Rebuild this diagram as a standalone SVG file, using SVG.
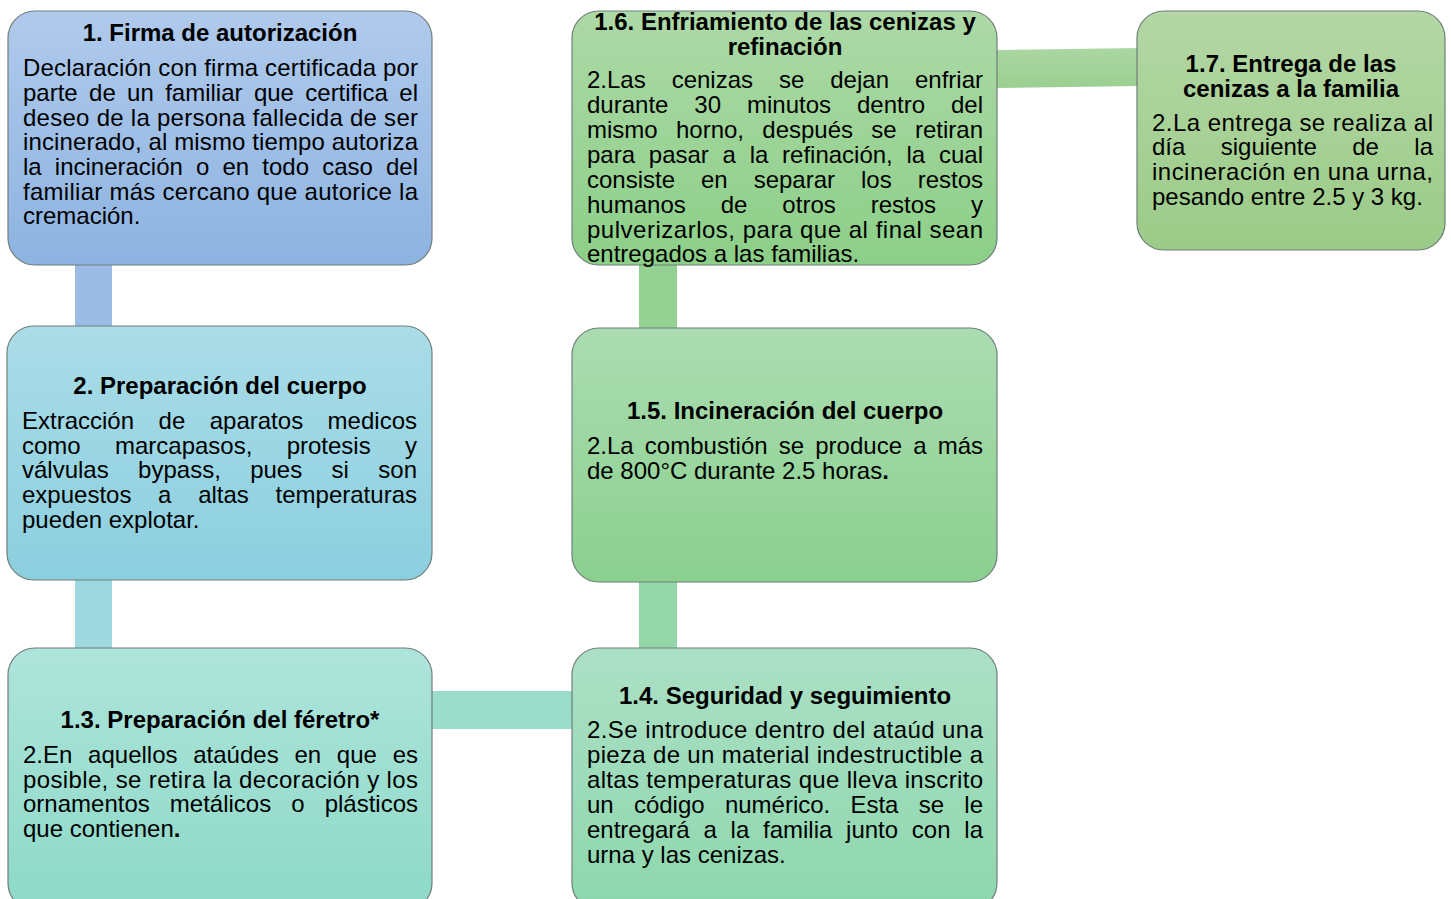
<svg xmlns="http://www.w3.org/2000/svg" width="1451" height="899" viewBox="0 0 1451 899">
<style>
.t{font-family:"Liberation Sans",Arial,sans-serif;font-size:24px;font-weight:bold;fill:#000;text-anchor:middle}
.b{font-family:"Liberation Sans",Arial,sans-serif;font-size:24px;fill:#000}
.box{stroke:#6f7f7a;stroke-width:1.2}
</style>
<defs>
<linearGradient id="g1" x1="0" y1="0" x2="0" y2="1"><stop offset="0" stop-color="#b0caec"/><stop offset="1" stop-color="#8db3e1"/></linearGradient>
<linearGradient id="g2" x1="0" y1="0" x2="0" y2="1"><stop offset="0" stop-color="#abdce8"/><stop offset="1" stop-color="#8bcfdf"/></linearGradient>
<linearGradient id="g3" x1="0" y1="0" x2="0" y2="1"><stop offset="0" stop-color="#aee4db"/><stop offset="1" stop-color="#8dd9c8"/></linearGradient>
<linearGradient id="g4" x1="0" y1="0" x2="0" y2="1"><stop offset="0" stop-color="#ace0c6"/><stop offset="1" stop-color="#8dd7ad"/></linearGradient>
<linearGradient id="g5" x1="0" y1="0" x2="0" y2="1"><stop offset="0" stop-color="#abdcb1"/><stop offset="1" stop-color="#8bd08f"/></linearGradient>
<linearGradient id="g6" x1="0" y1="0" x2="0" y2="1"><stop offset="0" stop-color="#add9a7"/><stop offset="1" stop-color="#8ccf88"/></linearGradient>
<linearGradient id="g7" x1="0" y1="0" x2="0" y2="1"><stop offset="0" stop-color="#b4d7a5"/><stop offset="1" stop-color="#9bcb88"/></linearGradient>
<linearGradient id="gc67" x1="0" y1="0" x2="0" y2="1"><stop offset="0" stop-color="#abd7a2"/><stop offset="1" stop-color="#9bcf91"/></linearGradient>
</defs>
<rect width="1451" height="899" fill="#ffffff"/>
<g id="connectors">
<rect x="75" y="262" width="37" height="68" fill="#9bbce5"/>
<rect x="75" y="576" width="37" height="76" fill="#9ed9e0"/>
<rect x="428" y="691" width="148" height="38" fill="#9cdcca"/>
<rect x="639" y="578" width="38" height="74" fill="#93d7a8"/>
<rect x="639" y="262" width="38" height="70" fill="#93d293"/>
<polygon points="995,50 1139,48 1139,86 995,88" fill="url(#gc67)"/>
</g>
<g id="node1">
<rect class="box" x="8" y="11" width="424" height="254" rx="27" fill="url(#g1)"/>
<text class="t" x="220" y="41">1. Firma de autorización</text>
<text class="b" x="23" y="76" textLength="395" lengthAdjust="spacing">Declaración con firma certificada por</text>
<text class="b" x="23" y="101" textLength="395" lengthAdjust="spacing" word-spacing="4.7">parte de un familiar que certifica el</text>
<text class="b" x="23" y="126" textLength="395" lengthAdjust="spacing">deseo de la persona fallecida de ser</text>
<text class="b" x="23" y="150" textLength="395" lengthAdjust="spacing">incinerado, al mismo tiempo autoriza</text>
<text class="b" x="23" y="175" textLength="395" lengthAdjust="spacing" word-spacing="6.5">la incineración o en todo caso del</text>
<text class="b" x="23" y="200" textLength="395" lengthAdjust="spacing">familiar más cercano que autorice la</text>
<text class="b" x="23" y="224">cremación.</text>
</g>
<g id="node2">
<rect class="box" x="7" y="326" width="425" height="254" rx="27" fill="url(#g2)"/>
<text class="t" x="220" y="394">2. Preparación del cuerpo</text>
<text class="b" x="22" y="429" textLength="395" lengthAdjust="spacing" word-spacing="17.8">Extracción de aparatos medicos</text>
<text class="b" x="22" y="454" textLength="395" lengthAdjust="spacing" word-spacing="27.7">como marcapasos, protesis y</text>
<text class="b" x="22" y="478" textLength="395" lengthAdjust="spacing" word-spacing="22.7">válvulas bypass, pues si son</text>
<text class="b" x="22" y="503" textLength="395" lengthAdjust="spacing" word-spacing="20">expuestos a altas temperaturas</text>
<text class="b" x="22" y="528">pueden explotar.</text>
</g>
<g id="node3">
<rect class="box" x="8" y="648" width="424" height="262" rx="27" fill="url(#g3)"/>
<text class="t" x="220" y="728">1.3. Preparación del féretro*</text>
<text class="b" x="23" y="763" textLength="395" lengthAdjust="spacing" word-spacing="9.1">2.En aquellos ataúdes en que es</text>
<text class="b" x="23" y="788" textLength="395" lengthAdjust="spacing">posible, se retira la decoración y los</text>
<text class="b" x="23" y="812" textLength="395" lengthAdjust="spacing" word-spacing="13.4">ornamentos metálicos o plásticos</text>
<text class="b" x="23" y="837">que contienen<tspan font-weight="bold">.</tspan></text>
</g>
<g id="node4">
<rect class="box" x="572" y="648" width="425" height="262" rx="27" fill="url(#g4)"/>
<text class="t" x="785" y="704">1.4. Seguridad y seguimiento</text>
<text class="b" x="587" y="738" textLength="396" lengthAdjust="spacing">2.Se introduce dentro del ataúd una</text>
<text class="b" x="587" y="763" textLength="396" lengthAdjust="spacing">pieza de un material indestructible a</text>
<text class="b" x="587" y="788" textLength="396" lengthAdjust="spacing">altas temperaturas que lleva inscrito</text>
<text class="b" x="587" y="813" textLength="396" lengthAdjust="spacing" word-spacing="13.6">un código numérico. Esta se le</text>
<text class="b" x="587" y="838" textLength="396" lengthAdjust="spacing" word-spacing="7.1">entregará a la familia junto con la</text>
<text class="b" x="587" y="863">urna y las cenizas.</text>
</g>
<g id="node5">
<rect class="box" x="572" y="328" width="425" height="254" rx="27" fill="url(#g5)"/>
<text class="t" x="785" y="419">1.5. Incineración del cuerpo</text>
<text class="b" x="587" y="454" textLength="396" lengthAdjust="spacing" word-spacing="4.5">2.La combustión se produce a más</text>
<text class="b" x="587" y="479">de 800°C durante 2.5 horas<tspan font-weight="bold">.</tspan></text>
</g>
<g id="node6">
<rect class="box" x="572" y="11" width="425" height="254" rx="27" fill="url(#g6)"/>
<text class="t" x="785" y="30">1.6. Enfriamiento de las cenizas y</text>
<text class="t" x="785" y="55">refinación</text>
<text class="b" x="587" y="88" textLength="396" lengthAdjust="spacing" word-spacing="19.3">2.Las cenizas se dejan enfriar</text>
<text class="b" x="587" y="113" textLength="396" lengthAdjust="spacing" word-spacing="19.3">durante 30 minutos dentro del</text>
<text class="b" x="587" y="138" textLength="396" lengthAdjust="spacing" word-spacing="11.6">mismo horno, después se retiran</text>
<text class="b" x="587" y="163" textLength="396" lengthAdjust="spacing" word-spacing="7.1">para pasar a la refinación, la cual</text>
<text class="b" x="587" y="188" textLength="396" lengthAdjust="spacing" word-spacing="19.3">consiste en separar los restos</text>
<text class="b" x="587" y="213" textLength="396" lengthAdjust="spacing" word-spacing="28.3">humanos de otros restos y</text>
<text class="b" x="587" y="238" textLength="396" lengthAdjust="spacing">pulverizarlos, para que al final sean</text>
<text class="b" x="587" y="262">entregados a las familias.</text>
</g>
<g id="node7">
<rect class="box" x="1137" y="11" width="308" height="239" rx="27" fill="url(#g7)"/>
<text class="t" x="1291" y="72">1.7. Entrega de las</text>
<text class="t" x="1291" y="97">cenizas a la familia</text>
<text class="b" x="1152" y="131" textLength="281" lengthAdjust="spacing">2.La entrega se realiza al</text>
<text class="b" x="1152" y="155" textLength="281" lengthAdjust="spacing" word-spacing="28.7">día siguiente de la</text>
<text class="b" x="1152" y="180" textLength="281" lengthAdjust="spacing">incineración en una urna,</text>
<text class="b" x="1152" y="205">pesando entre 2.5 y 3 kg.</text>
</g>
</svg>
